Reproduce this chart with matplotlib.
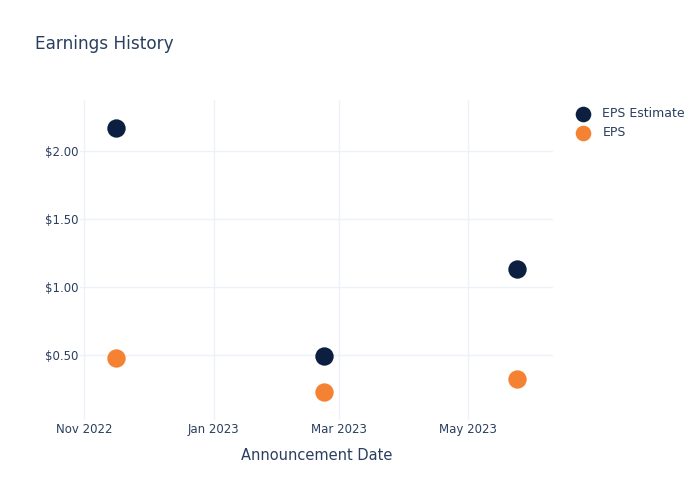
import matplotlib
matplotlib.use("Agg")
import matplotlib.pyplot as plt
import matplotlib.dates as mdates
from matplotlib.ticker import FuncFormatter
import numpy as np

dates = np.array(["2022-11-16", "2023-02-22", "2023-05-24"], dtype="datetime64[D]")
eps_estimate = [2.17, 0.49, 1.13]
eps_actual = [0.48, 0.23, 0.32]

navy = "#0c1f40"
orange = "#f58232"
text_col = "#2a3f5f"
grid_col = "#eef2f8"

fig = plt.figure(figsize=(7, 5), dpi=100)
ax = fig.add_axes([80 / 700, 80 / 500, (553 - 80) / 700, (420 - 100) / 500])

ax.scatter(dates, eps_estimate, s=175, color=navy, label="EPS Estimate", zorder=3, linewidths=0)
ax.scatter(dates, eps_actual, s=175, color=orange, label="EPS", zorder=3, linewidths=0)

ax.set_xlim(np.datetime64("2022-10-30"), np.datetime64("2023-06-10"))
ax.set_ylim(0.022, 2.375)

ax.xaxis.set_major_locator(mdates.MonthLocator(bymonth=[1, 3, 5, 11]))
ax.xaxis.set_major_formatter(mdates.DateFormatter("%b %Y"))
ax.set_yticks([0.5, 1.0, 1.5, 2.0])
ax.yaxis.set_major_formatter(FuncFormatter(lambda v, p: f"${v:.2f}"))

ax.grid(True, color=grid_col, linewidth=1)
ax.set_axisbelow(True)
for s in ax.spines.values():
    s.set_visible(False)
ax.tick_params(length=0, labelsize=8.5, colors=text_col)
ax.tick_params(axis="x", pad=2)
ax.tick_params(axis="y", pad=1)

ax.set_xlabel("Announcement Date", fontsize=10.5, color=text_col, labelpad=9)
fig.text(35 / 700, 1 - 44 / 500, "Earnings History", fontsize=12.2, color=text_col, va="center")

fig.legend(loc="upper left", bbox_to_anchor=(565 / 700, 1 - 102 / 500), frameon=False, fontsize=9,
           labelcolor=text_col, handletextpad=0.6, borderaxespad=0, labelspacing=0.5,
           markerscale=0.85)

fig.savefig("out.png", dpi=100)
